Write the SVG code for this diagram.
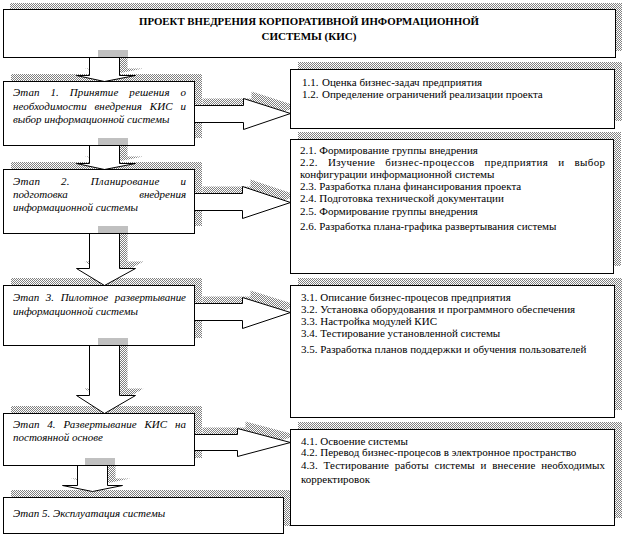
<svg xmlns="http://www.w3.org/2000/svg" width="625" height="538" viewBox="0 0 625 538">
<defs>
<pattern id="dots" x="0" y="0" width="2" height="2" patternUnits="userSpaceOnUse">
<rect width="2" height="2" fill="#ffffff"/>
<rect width="1" height="1" fill="#808080"/>
<rect x="1" y="1" width="1" height="1" fill="#808080"/>
</pattern>
</defs>
<style>
.sh{fill:url(#dots);stroke:none}
.box{fill:#fff;stroke:#000;stroke-width:1}
.arr{fill:#fff;stroke:#000;stroke-width:1;stroke-linejoin:miter}
.bar{fill:#c0c0c0;stroke:none}
text{font-family:'Liberation Serif','Times New Roman',serif;fill:#000}
.ttl{font-size:11px;font-weight:bold}
.st{font-size:11px;font-style:italic}
.it{font-size:11px}
</style>

<!-- shadows -->
<g id="shadows">
<rect class="sh" x="10" y="3" width="612" height="48"/>
<rect class="sh" x="11" y="74" width="191" height="64"/>
<rect class="sh" x="11" y="162" width="191" height="64"/>
<rect class="sh" x="11" y="278" width="191" height="60"/>
<rect class="sh" x="11" y="406" width="191" height="52"/>
<rect class="sh" x="11" y="490" width="280" height="36"/>
<rect class="sh" x="298" y="62" width="324" height="59"/>
<rect class="sh" x="298" y="132" width="323" height="134"/>
<rect class="sh" x="298" y="278" width="324" height="132"/>
<rect class="sh" x="298" y="422" width="324" height="96"/>
<g transform="translate(8,-7)">
<polygon class="sh" points="89.5,57.5 119.5,57.5 119.5,75.5 135.5,75.5 104.5,81.5 76.5,75.5 89.5,75.5"/>
<polygon class="sh" points="89.5,145.5 119.5,145.5 119.5,163.5 135.5,163.5 104.5,169.5 76.5,163.5 89.5,163.5"/>
<polygon class="sh" points="89.5,233.5 119.5,233.5 119.5,268.5 135.5,268.5 104.5,285.5 76.5,268.5 89.5,268.5"/>
<polygon class="sh" points="89.5,345.5 119.5,345.5 119.5,395.5 135.5,395.5 104.5,413.5 76.5,395.5 89.5,395.5"/>
<polygon class="sh" points="77.5,465.5 107.5,465.5 107.5,485.5 122.5,485.5 92.5,491.5 62.5,485.5 77.5,485.5"/>
<polygon class="sh" points="194.5,105.5 243.5,105.5 243.5,98.5 290.5,113.5 243.5,129.5 243.5,122.5 194.5,122.5"/>
<polygon class="sh" points="194.5,193.5 242.5,193.5 242.5,186.5 290.5,202.5 242.5,218.5 242.5,210.5 194.5,210.5"/>
<polygon class="sh" points="194.5,303.5 242.5,303.5 242.5,297.5 290.5,312.5 242.5,328.5 242.5,320.5 194.5,320.5"/>
<polygon class="sh" points="194.5,434.5 237.5,434.5 237.5,428.5 290.5,442.5 237.5,456.5 237.5,450.5 194.5,450.5"/>
</g>
</g>

<!-- connectors -->
<g id="connectors">
<polygon class="arr" points="89.5,57.5 119.5,57.5 119.5,75.5 135.5,75.5 104.5,81.5 76.5,75.5 89.5,75.5"/>
<polygon class="arr" points="89.5,145.5 119.5,145.5 119.5,163.5 135.5,163.5 104.5,169.5 76.5,163.5 89.5,163.5"/>
<polygon class="arr" points="89.5,233.5 119.5,233.5 119.5,268.5 135.5,268.5 104.5,285.5 76.5,268.5 89.5,268.5"/>
<polygon class="arr" points="89.5,345.5 119.5,345.5 119.5,395.5 135.5,395.5 104.5,413.5 76.5,395.5 89.5,395.5"/>
<polygon class="arr" points="77.5,465.5 107.5,465.5 107.5,485.5 122.5,485.5 92.5,491.5 62.5,485.5 77.5,485.5"/>
<polygon class="arr" points="194.5,105.5 243.5,105.5 243.5,98.5 290.5,113.5 243.5,129.5 243.5,122.5 194.5,122.5"/>
<polygon class="arr" points="194.5,193.5 242.5,193.5 242.5,186.5 290.5,202.5 242.5,218.5 242.5,210.5 194.5,210.5"/>
<polygon class="arr" points="194.5,303.5 242.5,303.5 242.5,297.5 290.5,312.5 242.5,328.5 242.5,320.5 194.5,320.5"/>
<polygon class="arr" points="194.5,434.5 237.5,434.5 237.5,428.5 290.5,442.5 237.5,456.5 237.5,450.5 194.5,450.5"/>
</g>

<g id="title">
<rect class="box" x="3.5" y="9.5" width="612" height="48"/>
<rect class="bar" x="98" y="50" width="30" height="7"/>
<text class="ttl" x="309" y="25" text-anchor="middle" textLength="340" lengthAdjust="spacingAndGlyphs">ПРОЕКТ ВНЕДРЕНИЯ КОРПОРАТИВНОЙ ИНФОРМАЦИОННОЙ</text>
<text class="ttl" x="309" y="40" text-anchor="middle">СИСТЕМЫ (КИС)</text>
</g>

<g id="stage1">
<rect class="box" x="3.5" y="81.5" width="191" height="64"/>
<rect class="bar" x="98" y="138" width="30" height="7"/>
<text class="st" x="13" y="96" word-spacing="8" textLength="173" lengthAdjust="spacing">Этап 1. Принятие решения о</text>
<text class="st" x="13" y="110" word-spacing="5" textLength="173" lengthAdjust="spacing">необходимости внедрения КИС и</text>
<text class="st" x="13" y="123">выбор информационной системы</text>
</g>

<g id="stage2">
<rect class="box" x="3.5" y="169.5" width="191" height="64"/>
<rect class="bar" x="98" y="226" width="30" height="7"/>
<text class="st" x="13" y="185" word-spacing="18" textLength="173" lengthAdjust="spacing">Этап 2. Планирование и</text>
<text class="st" x="13" y="198">подготовка</text>
<text class="st" x="186" y="198" text-anchor="end">внедрения</text>
<text class="st" x="13" y="211">информационной системы</text>
</g>

<g id="stage3">
<rect class="box" x="3.5" y="285.5" width="191" height="60"/>
<rect class="bar" x="98" y="338" width="30" height="7"/>
<text class="st" x="13" y="301" word-spacing="4" textLength="173" lengthAdjust="spacing">Этап 3. Пилотное развертывание</text>
<text class="st" x="13" y="315">информационной системы</text>
</g>

<g id="stage4">
<rect class="box" x="3.5" y="413.5" width="191" height="52"/>
<rect class="bar" x="85" y="458" width="30" height="7"/>
<text class="st" x="13" y="428" word-spacing="5" textLength="173" lengthAdjust="spacing">Этап 4. Развертывание КИС на</text>
<text class="st" x="13" y="441">постоянной основе</text>
</g>

<g id="stage5">
<rect class="box" x="3.5" y="497.5" width="280" height="36"/>
<text class="st" x="13" y="517">Этап 5. Эксплуатация системы</text>
</g>

<g id="tasks1">
<rect class="box" x="290.5" y="69.5" width="324" height="59"/>
<text class="it" x="302" y="86">1.1.</text>
<text class="it" x="322" y="86">Оценка бизнес-задач предприятия</text>
<text class="it" x="302" y="98">1.2.</text>
<text class="it" x="322" y="98">Определение ограничений реализации проекта</text>
</g>

<g id="tasks2">
<rect class="box" x="290.5" y="139.5" width="323" height="134"/>
<text class="it" x="300" y="154">2.1. Формирование группы внедрения</text>
<text class="it" x="300" y="166" word-spacing="7" textLength="305" lengthAdjust="spacing">2.2. Изучение бизнес-процессов предприятия и выбор</text>
<text class="it" x="300" y="178">конфигурации информационной системы</text>
<text class="it" x="300" y="190">2.3. Разработка плана финансирования проекта</text>
<text class="it" x="300" y="202">2.4. Подготовка технической документации</text>
<text class="it" x="300" y="215">2.5. Формирование группы внедрения</text>
<text class="it" x="300" y="230">2.6. Разработка плана-графика развертывания системы</text>
</g>

<g id="tasks3">
<rect class="box" x="290.5" y="285.5" width="324" height="132"/>
<text class="it" x="301" y="301">3.1. Описание бизнес-процесов предприятия</text>
<text class="it" x="301" y="313">3.2. Установка оборудования и программного обеспечения</text>
<text class="it" x="301" y="325">3.3. Настройка модулей КИС</text>
<text class="it" x="301" y="337">3.4. Тестирование установленной системы</text>
<text class="it" x="301" y="353">3.5. Разработка планов поддержки и обучения пользователей</text>
</g>

<g id="tasks4">
<rect class="box" x="290.5" y="429.5" width="324" height="96"/>
<text class="it" x="301" y="445">4.1. Освоение системы</text>
<text class="it" x="301" y="456">4.2. Перевод бизнес-процесов в электронное пространство</text>
<text class="it" x="301" y="469" word-spacing="3" textLength="304" lengthAdjust="spacing">4.3. Тестирование работы системы и внесение необходимых</text>
<text class="it" x="301" y="483">корректировок</text>
</g>
</svg>
